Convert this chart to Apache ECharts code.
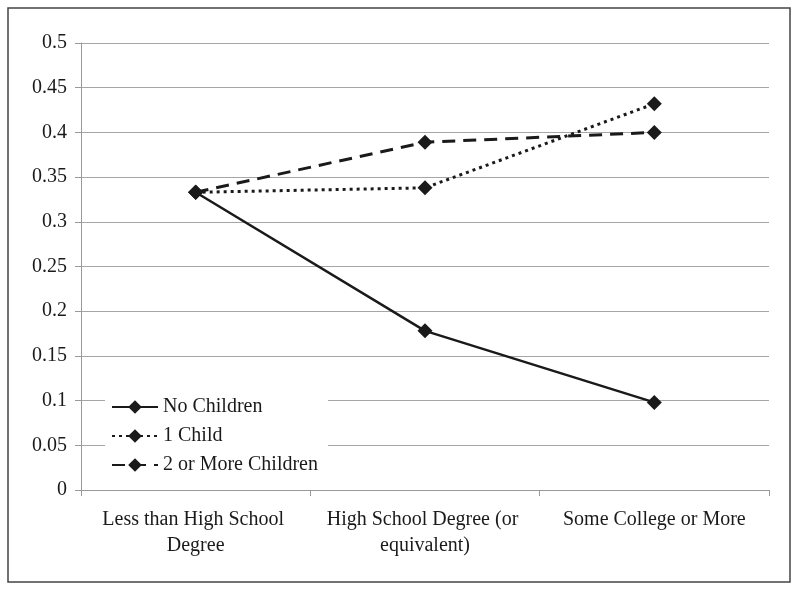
<!DOCTYPE html>
<html><head><meta charset="utf-8">
<script src="https://cdn.jsdelivr.net/npm/echarts@6/dist/echarts.min.js"></script>
<style>html,body{margin:0;padding:0;background:#fff}#c{width:800px;height:590px}</style>
</head><body><div id="c"></div>
<script>
const categories = ["Less than High School Degree", "High School Degree (or equivalent)", "Some College or More"];
const seriesNames = ["No Children", "1 Child", "2 or More Children"];
const noChildren = [0.333, 0.178, 0.098];
const oneChild = [0.333, 0.338, 0.432];
const twoOrMore = [0.333, 0.389, 0.400];
const yTicks = [0, 0.05, 0.1, 0.15, 0.2, 0.25, 0.3, 0.35, 0.4, 0.45, 0.5];

const font = "'Liberation Serif', 'Times New Roman', serif";
const chart = echarts.init(document.getElementById('c'), null, {renderer: 'canvas'});
function mk(name, data, type, width, z) {
  return {
    name, type: 'line', data, z,
    symbol: 'diamond', symbolSize: 15,
    itemStyle: {color: '#1a1a1a'},
    lineStyle: {color: '#1a1a1a', width, type},
    emphasis: {disabled: true}
  };
}
chart.setOption({
  animation: false,
  backgroundColor: '#fff',
  graphic: [{type: 'rect', shape: {x: 8, y: 8, width: 782, height: 574}, style: {fill: 'none', stroke: '#444', lineWidth: 1.5}, z: 100}],
  grid: {left: 81, right: 31, top: 43, bottom: 100},
  legend: {
    orient: 'vertical', left: 105, top: 393,
    backgroundColor: '#fff', padding: [4, 10, 4, 6],
    itemWidth: 46, itemHeight: 17, itemGap: 9,
    textStyle: {fontFamily: font, fontSize: 20, color: '#1a1a1a'},
    data: seriesNames
  },
  xAxis: {
    type: 'category', data: categories, boundaryGap: true,
    axisLine: {lineStyle: {color: '#999', width: 1}},
    axisTick: {show: true, length: 6, lineStyle: {color: '#999'}},
    axisLabel: {fontFamily: font, fontSize: 20, color: '#1a1a1a', margin: 17, width: 215, overflow: 'break', lineHeight: 26, interval: 0}
  },
  yAxis: {
    type: 'value', min: 0, max: 0.5, interval: 0.05,
    axisLine: {show: true, lineStyle: {color: '#999', width: 1}},
    axisTick: {show: true, length: 6, lineStyle: {color: '#999'}},
    splitLine: {lineStyle: {color: '#a6a6a6', width: 1}},
    axisLabel: {fontFamily: font, fontSize: 20, color: '#1a1a1a', margin: 14,
      formatter: v => { const t = yTicks.find(x => Math.abs(x - v) < 1e-9); return String(t !== undefined ? t : +v.toFixed(2)); }}
  },
  series: [
    mk(seriesNames[0], noChildren, 'solid', 2.5, 3),
    mk(seriesNames[1], oneChild, [3, 4], 3, 2),
    mk(seriesNames[2], twoOrMore, [13, 8], 3, 1)
  ]
});
</script></body></html>
